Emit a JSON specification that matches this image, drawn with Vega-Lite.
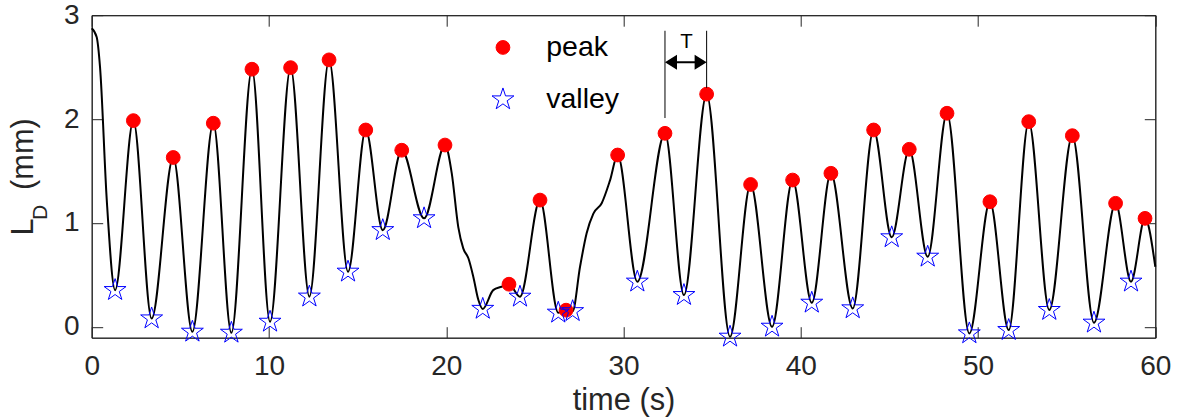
{
  "$schema": "https://vega.github.io/schema/vega-lite/v6.json",
  "width": 1063.6,
  "height": 322.5,
  "padding": {"left": 91.7, "top": 15.2, "right": 24.7, "bottom": 80.3},
  "autosize": {"type": "none"},
  "background": "white",
  "config": {
    "view": {"stroke": "#262626", "strokeWidth": 1},
    "font": "Liberation Sans",
    "axis": {
      "grid": false,
      "domainColor": "#262626",
      "tickColor": "#262626",
      "labelColor": "#262626",
      "titleColor": "#262626",
      "labelFont": "Liberation Sans",
      "titleFont": "Liberation Sans",
      "labelFontSize": 28,
      "titleFontSize": 30.8,
      "titleFontWeight": "normal",
      "labelFlush": false,
      "labelOverlap": false,
      "tickSize": -11,
      "tickWidth": 1,
      "domainWidth": 1
    },
    "legend": {
      "orient": "none",
      "legendX": 397,
      "legendY": 18,
      "padding": 0,
      "rowPadding": 23,
      "labelOffset": 29,
      "labelFont": "Liberation Sans",
      "labelFontSize": 28.5,
      "labelColor": "#000000",
      "symbolStrokeWidth": 1
    }
  },
  "datasets": {
    "curve": [
      {"t": 0, "v": 2.875}, {"t": 0.28, "v": 2.79}, {"t": 0.47, "v": 2.5}, {"t": 0.85, "v": 1.22},
      {"t": 1.32, "v": 0.353}, {"t": 2.35, "v": 1.985}, {"t": 3.38, "v": 0.08}, {"t": 4.6, "v": 1.63},
      {"t": 5.68, "v": -0.048}, {"t": 6.86, "v": 1.96}, {"t": 7.88, "v": -0.058}, {"t": 9.04, "v": 2.48},
      {"t": 10.06, "v": 0.048}, {"t": 11.22, "v": 2.495}, {"t": 12.28, "v": 0.29}, {"t": 13.39, "v": 2.57},
      {"t": 14.46, "v": 0.53}, {"t": 15.46, "v": 1.895}, {"t": 16.42, "v": 0.93}, {"t": 17.49, "v": 1.7},
      {"t": 18.75, "v": 1.044}, {"t": 19.93, "v": 1.75}, {"t": 20.31, "v": 1.48}, {"t": 20.68, "v": 0.96},
      {"t": 20.96, "v": 0.755}, {"t": 21.25, "v": 0.66}, {"t": 21.53, "v": 0.48}, {"t": 21.81, "v": 0.26},
      {"t": 22.06, "v": 0.172}, {"t": 22.65, "v": 0.353}, {"t": 23.12, "v": 0.385}, {"t": 23.54, "v": 0.41},
      {"t": 24.16, "v": 0.289}, {"t": 25.29, "v": 1.22}, {"t": 26.32, "v": 0.135}, {"t": 26.76, "v": 0.16},
      {"t": 27.13, "v": 0.15}, {"t": 27.55, "v": 0.58}, {"t": 27.92, "v": 0.9}, {"t": 28.3, "v": 1.09},
      {"t": 28.77, "v": 1.19}, {"t": 29.24, "v": 1.41}, {"t": 29.67, "v": 1.654}, {"t": 30.78, "v": 0.434},
      {"t": 32.34, "v": 1.863}, {"t": 33.41, "v": 0.305}, {"t": 34.69, "v": 2.24}, {"t": 36.01, "v": -0.096},
      {"t": 37.17, "v": 1.37}, {"t": 38.38, "v": 0.0}, {"t": 39.54, "v": 1.413}, {"t": 40.62, "v": 0.231},
      {"t": 41.7, "v": 1.478}, {"t": 42.93, "v": 0.177}, {"t": 44.11, "v": 1.895}, {"t": 45.13, "v": 0.861},
      {"t": 46.12, "v": 1.709}, {"t": 47.16, "v": 0.674}, {"t": 48.25, "v": 2.056}, {"t": 49.51, "v": -0.064},
      {"t": 50.67, "v": 1.204}, {"t": 51.73, "v": -0.032}, {"t": 52.86, "v": 1.975}, {"t": 54.02, "v": 0.161},
      {"t": 55.32, "v": 1.84}, {"t": 56.54, "v": 0.039}, {"t": 57.76, "v": 1.189}, {"t": 58.63, "v": 0.434},
      {"t": 59.42, "v": 1.044}, {"t": 60, "v": 0.578}
    ],
    "markers": [
      {"t": 2.35, "v": 1.985, "type": "peak"}, {"t": 4.6, "v": 1.63, "type": "peak"},
      {"t": 6.86, "v": 1.96, "type": "peak"}, {"t": 9.04, "v": 2.48, "type": "peak"},
      {"t": 11.22, "v": 2.495, "type": "peak"}, {"t": 13.39, "v": 2.57, "type": "peak"},
      {"t": 15.46, "v": 1.895, "type": "peak"}, {"t": 17.49, "v": 1.7, "type": "peak"},
      {"t": 19.93, "v": 1.75, "type": "peak"}, {"t": 23.54, "v": 0.41, "type": "peak"},
      {"t": 25.29, "v": 1.22, "type": "peak"}, {"t": 26.76, "v": 0.16, "type": "peak"},
      {"t": 29.67, "v": 1.654, "type": "peak"}, {"t": 32.34, "v": 1.863, "type": "peak"},
      {"t": 34.69, "v": 2.24, "type": "peak"}, {"t": 37.17, "v": 1.37, "type": "peak"},
      {"t": 39.54, "v": 1.413, "type": "peak"}, {"t": 41.7, "v": 1.478, "type": "peak"},
      {"t": 44.11, "v": 1.895, "type": "peak"}, {"t": 46.12, "v": 1.709, "type": "peak"},
      {"t": 48.25, "v": 2.056, "type": "peak"}, {"t": 50.67, "v": 1.204, "type": "peak"},
      {"t": 52.86, "v": 1.975, "type": "peak"}, {"t": 55.32, "v": 1.84, "type": "peak"},
      {"t": 57.76, "v": 1.189, "type": "peak"}, {"t": 59.42, "v": 1.044, "type": "peak"},
      {"t": 1.32, "v": 0.353, "type": "valley"}, {"t": 3.38, "v": 0.08, "type": "valley"},
      {"t": 5.68, "v": -0.048, "type": "valley"}, {"t": 7.88, "v": -0.058, "type": "valley"},
      {"t": 10.06, "v": 0.048, "type": "valley"}, {"t": 12.28, "v": 0.29, "type": "valley"},
      {"t": 14.46, "v": 0.53, "type": "valley"}, {"t": 16.42, "v": 0.93, "type": "valley"},
      {"t": 18.75, "v": 1.044, "type": "valley"}, {"t": 22.06, "v": 0.172, "type": "valley"},
      {"t": 24.16, "v": 0.289, "type": "valley"}, {"t": 26.32, "v": 0.135, "type": "valley"},
      {"t": 27.13, "v": 0.15, "type": "valley"}, {"t": 30.78, "v": 0.434, "type": "valley"},
      {"t": 33.41, "v": 0.305, "type": "valley"}, {"t": 36.01, "v": -0.096, "type": "valley"},
      {"t": 38.38, "v": 0.0, "type": "valley"}, {"t": 40.62, "v": 0.231, "type": "valley"},
      {"t": 42.93, "v": 0.177, "type": "valley"}, {"t": 45.13, "v": 0.861, "type": "valley"},
      {"t": 47.16, "v": 0.674, "type": "valley"}, {"t": 49.51, "v": -0.064, "type": "valley"},
      {"t": 51.73, "v": -0.032, "type": "valley"}, {"t": 54.02, "v": 0.161, "type": "valley"},
      {"t": 56.54, "v": 0.039, "type": "valley"}, {"t": 58.63, "v": 0.434, "type": "valley"}
    ]
  },
  "layer": [
    {
      "data": {"name": "curve"},
      "mark": {"type": "line", "interpolate": "monotone", "color": "#000000", "strokeWidth": 2},
      "encoding": {
        "x": {"field": "t", "type": "quantitative", "scale": {"domain": [0, 60], "nice": false, "zero": false},
          "axis": {"orient": "bottom", "values": [0, 10, 20, 30, 40, 50, 60], "format": "d", "title": "time (s)", "labelPadding": 26, "titlePadding": 5}},
        "y": {"field": "v", "type": "quantitative", "scale": {"domain": [-0.105, 3], "nice": false, "zero": false},
          "axis": {"orient": "left", "values": [0, 1, 2, 3], "format": "d", "title": null, "labelPadding": 23.5}}
      }
    },
    {
      "data": {"name": "markers"},
      "mark": {"type": "point", "strokeWidth": 1, "opacity": 1},
      "encoding": {
        "x": {"field": "t", "type": "quantitative", "scale": {"domain": [0, 60], "nice": false, "zero": false},
          "axis": {"orient": "top", "values": [0, 10, 20, 30, 40, 50, 60], "labels": false, "title": null}},
        "y": {"field": "v", "type": "quantitative", "scale": {"domain": [-0.105, 3], "nice": false, "zero": false},
          "axis": {"orient": "right", "values": [0, 1, 2, 3], "labels": false, "title": null}},
        "shape": {"field": "type", "type": "nominal", "scale": {"domain": ["peak", "valley"], "range": ["circle", "M0,-1L0.2245,-0.309L0.951,-0.309L0.3633,0.118L0.588,0.809L0,0.382L-0.588,0.809L-0.3633,0.118L-0.951,-0.309L-0.2245,-0.309Z"]}, "legend": {"title": null}},
        "fill": {"field": "type", "type": "nominal", "scale": {"domain": ["peak", "valley"], "range": ["#ff0000", "transparent"]}, "legend": {"title": null}},
        "stroke": {"field": "type", "type": "nominal", "scale": {"domain": ["peak", "valley"], "range": ["#ff0000", "#0000ff"]}, "legend": {"title": null}},
        "size": {"field": "type", "type": "nominal", "scale": {"domain": ["peak", "valley"], "range": [190, 530]}, "legend": {"title": null}}
      }
    },
    {
      "data": {"values": [{"t": 32.34, "v1": 2.85, "v2": 2.01}, {"t": 34.69, "v1": 2.85, "v2": 2.3}]},
      "mark": {"type": "rule", "color": "#000000", "strokeWidth": 1},
      "encoding": {
        "x": {"field": "t", "type": "quantitative", "scale": {"domain": [0, 60], "nice": false, "zero": false}, "axis": null},
        "y": {"field": "v1", "type": "quantitative", "scale": {"domain": [-0.105, 3], "nice": false, "zero": false}, "axis": null},
        "y2": {"field": "v2"}
      }
    },
    {
      "data": {"values": [{"t1": 32.6, "t2": 34.43, "v": 2.548}]},
      "mark": {"type": "rule", "color": "#000000", "strokeWidth": 2},
      "encoding": {
        "x": {"field": "t1", "type": "quantitative", "scale": {"domain": [0, 60], "nice": false, "zero": false}, "axis": null},
        "x2": {"field": "t2"},
        "y": {"field": "v", "type": "quantitative", "scale": {"domain": [-0.105, 3], "nice": false, "zero": false}, "axis": null}
      }
    },
    {
      "data": {"values": [{"t": 32.34, "v": 2.548}]},
      "mark": {"type": "point", "shape": "M0,0L2,-1.25L2,1.25Z", "size": 144, "filled": true, "color": "#000000", "opacity": 1},
      "encoding": {
        "x": {"field": "t", "type": "quantitative", "scale": {"domain": [0, 60], "nice": false, "zero": false}, "axis": null},
        "y": {"field": "v", "type": "quantitative", "scale": {"domain": [-0.105, 3], "nice": false, "zero": false}, "axis": null}
      }
    },
    {
      "data": {"values": [{"t": 34.69, "v": 2.548}]},
      "mark": {"type": "point", "shape": "M0,0L-2,-1.25L-2,1.25Z", "size": 144, "filled": true, "color": "#000000", "opacity": 1},
      "encoding": {
        "x": {"field": "t", "type": "quantitative", "scale": {"domain": [0, 60], "nice": false, "zero": false}, "axis": null},
        "y": {"field": "v", "type": "quantitative", "scale": {"domain": [-0.105, 3], "nice": false, "zero": false}, "axis": null}
      }
    },
    {
      "data": {"values": [{"t": 33.56, "v": 2.682, "label": "T"}]},
      "mark": {"type": "text", "fontSize": 20.5, "font": "Liberation Sans", "align": "center", "baseline": "alphabetic", "color": "#000000"},
      "encoding": {
        "x": {"field": "t", "type": "quantitative", "scale": {"domain": [0, 60], "nice": false, "zero": false}, "axis": null},
        "y": {"field": "v", "type": "quantitative", "scale": {"domain": [-0.105, 3], "nice": false, "zero": false}, "axis": null},
        "text": {"field": "label"}
      }
    },
    {
      "data": {"values": [{"t": -3.29, "v": 0.879, "label": "L"}, {"t": -3.29, "v": 1.317, "label": "(mm)"}]},
      "mark": {"type": "text", "fontSize": 30.8, "font": "Liberation Sans", "align": "left", "baseline": "alphabetic", "angle": 270, "color": "#262626"},
      "encoding": {
        "x": {"field": "t", "type": "quantitative", "scale": {"domain": [0, 60], "nice": false, "zero": false}, "axis": null},
        "y": {"field": "v", "type": "quantitative", "scale": {"domain": [-0.105, 3], "nice": false, "zero": false}, "axis": null},
        "text": {"field": "label"}
      }
    },
    {
      "data": {"values": [{"t": -2.538, "v": 1.028, "label": "D"}]},
      "mark": {"type": "text", "fontSize": 21, "font": "Liberation Sans", "align": "left", "baseline": "alphabetic", "angle": 270, "color": "#262626"},
      "encoding": {
        "x": {"field": "t", "type": "quantitative", "scale": {"domain": [0, 60], "nice": false, "zero": false}, "axis": null},
        "y": {"field": "v", "type": "quantitative", "scale": {"domain": [-0.105, 3], "nice": false, "zero": false}, "axis": null},
        "text": {"field": "label"}
      }
    }
  ],
  "resolve": {"axis": {"x": "independent", "y": "independent"}}
}
